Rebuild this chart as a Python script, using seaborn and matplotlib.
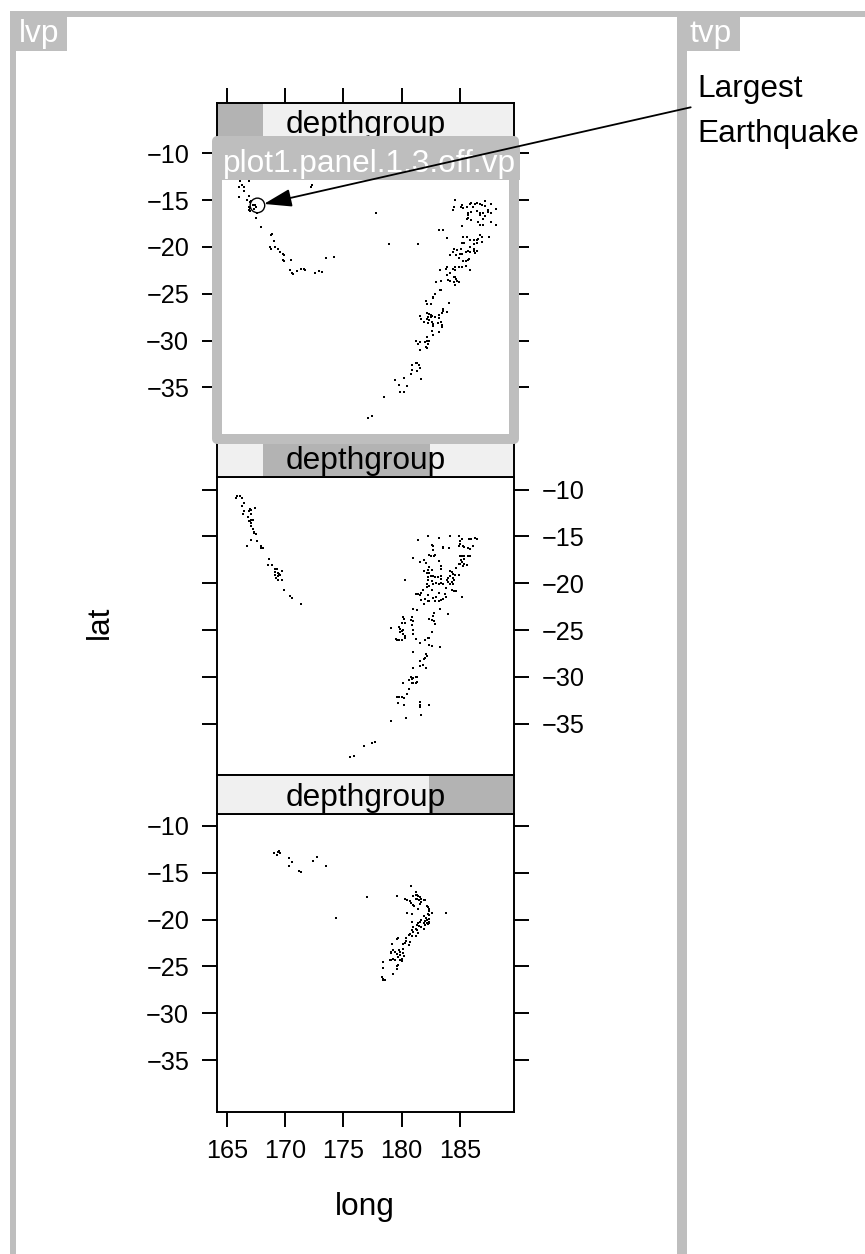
import matplotlib
matplotlib.use("Agg")
import matplotlib.pyplot as plt
import pandas as pd
import seaborn as sns
from matplotlib.patches import ConnectionPatch, Rectangle

# quake locations (long, lat), shallow -> deep
shallow_quakes = [
    (166.9, -13.0), (166.0, -13.6), (166.3, -13.4), (166.5, -13.6), (166.5, -14.0),
    (166.0, -14.7), (166.9, -14.6), (166.7, -15.0), (167.0, -15.2), (167.1, -15.1),
    (166.9, -15.7), (167.0, -15.8), (167.2, -15.5), (167.4, -15.5), (166.9, -16.1),
    (167.0, -16.2), (167.3, -15.9), (167.5, -15.7), (167.6, -16.4), (167.5, -16.9),
    (167.9, -17.9), (168.8, -18.7), (168.9, -18.6), (169.0, -19.4), (168.7, -20.0),
    (168.8, -20.2), (169.1, -20.0), (169.4, -20.2), (169.6, -20.5), (169.8, -20.7),
    (169.9, -20.9), (169.8, -21.4), (169.9, -21.5), (170.5, -21.4), (170.4, -22.5),
    (170.6, -22.8), (170.7, -22.9), (171.0, -22.6), (171.4, -22.3), (171.6, -22.3),
    (171.7, -22.5), (172.6, -22.8), (172.9, -22.6), (173.2, -22.7), (173.5, -21.2),
    (174.2, -21.1), (172.3, -13.4), (172.2, -13.6), (166.1, -12.9), (177.8, -16.4),
    (178.9, -19.7), (181.4, -19.7),
    (184.6, -15.0), (184.5, -15.7), (184.4, -16.0), (185.1, -15.7), (185.2, -15.5),
    (185.3, -15.8), (185.6, -15.7), (185.9, -15.4), (186.0, -15.3), (186.1, -15.7),
    (186.3, -15.4), (186.5, -15.3), (186.7, -15.4), (186.9, -15.5), (187.2, -15.1),
    (187.2, -15.6), (187.4, -16.1), (187.7, -15.4), (188.1, -15.9), (185.7, -16.4),
    (185.7, -16.6), (186.0, -16.3), (186.5, -16.2), (186.7, -16.4), (186.7, -16.6),
    (187.0, -16.4), (187.2, -16.7), (187.4, -16.3), (187.7, -16.4), (185.6, -17.0),
    (185.7, -16.9), (186.0, -17.1), (187.0, -17.0), (186.6, -17.3), (186.7, -17.6),
    (187.0, -17.6), (187.7, -17.3), (188.1, -17.6), (185.2, -17.8), (183.2, -18.2),
    (183.6, -18.2), (183.9, -19.0), (185.3, -18.9), (185.6, -18.9), (186.7, -18.7),
    (186.9, -18.9), (187.5, -18.9), (185.9, -19.3), (186.2, -19.3), (186.5, -19.3),
    (186.6, -19.2), (185.2, -19.6), (185.4, -19.6), (186.2, -19.7), (186.5, -19.6),
    (186.9, -19.5), (184.5, -20.2), (184.8, -20.3), (185.1, -20.2), (185.9, -20.0),
    (186.2, -20.2), (184.4, -20.5), (184.2, -20.9), (184.7, -20.9), (185.0, -20.8),
    (185.2, -20.8), (185.5, -20.5), (185.7, -20.4), (185.9, -20.5), (186.2, -20.4),
    (186.5, -20.4), (184.9, -21.2), (185.3, -21.5), (185.5, -21.5), (185.7, -21.4),
    (185.8, -21.3), (186.3, -20.6), (184.6, -22.1), (184.9, -22.1), (185.2, -22.1),
    (185.5, -22.0), (185.9, -22.5), (183.9, -22.1), (183.8, -22.4), (183.3, -22.5),
    (183.9, -23.0), (184.2, -22.8), (184.4, -22.4), (184.6, -22.5), (184.5, -23.2),
    (184.6, -23.2), (184.7, -23.4), (184.8, -23.6), (184.9, -23.7), (184.5, -23.7),
    (184.6, -24.1), (184.2, -23.6), (184.0, -23.5), (183.4, -23.6), (183.0, -23.7),
    (183.3, -24.6), (183.4, -24.6), (182.9, -25.0), (182.7, -25.3), (182.7, -25.4),
    (182.1, -25.8), (182.2, -26.1), (182.5, -26.1), (184.1, -26.0), (183.6, -26.6),
    (183.6, -26.8), (183.9, -26.9), (183.5, -27.1), (182.2, -27.1), (182.4, -27.2),
    (182.5, -27.3), (182.3, -27.5), (182.5, -27.5), (182.6, -27.4), (182.2, -27.7),
    (182.4, -27.8), (181.6, -27.4), (181.7, -27.7), (182.9, -27.5), (183.2, -27.3),
    (183.2, -27.6), (183.4, -28.0), (183.5, -28.5), (182.6, -28.0), (182.7, -28.4),
    (182.3, -28.1), (181.9, -28.0), (182.7, -28.2), (183.1, -28.1), (183.5, -28.3),
    (182.6, -29.0), (182.2, -29.6), (182.7, -29.4), (183.2, -29.1), (181.2, -30.0),
    (181.4, -30.4), (181.6, -30.1), (182.0, -30.1), (182.2, -30.0), (182.4, -30.0),
    (182.3, -30.4), (182.1, -30.7), (182.2, -30.8), (181.6, -31.0), (181.2, -32.4),
    (181.3, -32.4), (180.9, -32.6), (181.5, -32.6), (180.9, -33.1), (181.6, -32.9),
    (181.3, -33.3), (180.8, -33.6), (181.7, -34.1), (180.2, -34.0), (179.4, -34.2),
    (179.8, -34.7), (180.5, -34.9), (179.9, -35.5), (180.2, -35.5), (178.5, -36.0),
    (177.5, -38.0), (177.1, -38.3),
]

middle_quakes = [
    (165.8, -10.9), (165.9, -10.7), (166.1, -10.7), (166.3, -10.9), (166.5, -11.4),
    (166.3, -11.7), (166.4, -12.6), (166.5, -12.3), (166.9, -12.3), (167.0, -12.1),
    (167.1, -12.2), (167.1, -12.6), (167.4, -12.0), (166.8, -12.9), (166.9, -13.4),
    (167.1, -13.2), (167.2, -13.2), (167.0, -13.4), (167.1, -13.6), (167.1, -13.9),
    (167.2, -14.2), (167.3, -14.5), (167.3, -14.6), (167.5, -14.7), (167.1, -15.4),
    (167.6, -15.5), (166.7, -16.0), (167.9, -16.0), (167.9, -16.2), (168.1, -16.2),
    (168.6, -17.4), (168.5, -18.0), (168.9, -18.0), (169.1, -18.5), (169.3, -18.5),
    (169.1, -18.8), (169.4, -18.9), (169.5, -19.0), (169.7, -18.7), (169.1, -19.1),
    (169.4, -19.2), (169.6, -19.1), (169.2, -19.4), (169.4, -19.7), (169.7, -19.7),
    (169.9, -20.7), (170.4, -21.4), (170.6, -21.6), (171.4, -22.2),
    (182.3, -15.0), (183.2, -15.2), (184.2, -15.0), (184.9, -14.9), (185.2, -15.3),
    (185.0, -15.5), (185.8, -15.3), (186.0, -15.3), (186.3, -15.2), (186.5, -15.3),
    (181.4, -15.4), (182.6, -15.9), (182.7, -16.0), (183.6, -16.1), (183.6, -16.2),
    (184.1, -16.2), (184.9, -16.0), (185.0, -15.8), (185.3, -16.0), (185.4, -16.1),
    (185.7, -16.2), (185.9, -16.3), (186.1, -16.0), (182.7, -16.4), (182.4, -17.0),
    (182.5, -17.1), (182.8, -17.1), (182.9, -17.0), (185.0, -17.1), (185.2, -17.1),
    (185.4, -17.1), (185.7, -17.1), (185.9, -17.1), (181.0, -17.3), (181.6, -17.7),
    (181.9, -17.5), (182.1, -17.8), (183.2, -17.6), (185.1, -17.5), (185.4, -17.4),
    (185.2, -17.7), (185.0, -17.9), (184.9, -17.9), (185.4, -17.9), (185.6, -18.1),
    (185.3, -18.2), (184.7, -18.4), (182.4, -18.3), (182.3, -18.6), (182.6, -18.6),
    (183.4, -18.2), (183.4, -18.5), (181.9, -18.7), (182.2, -18.9), (182.4, -18.9),
    (182.5, -19.2), (182.3, -19.3), (182.7, -19.2), (182.9, -19.3), (183.1, -19.3),
    (183.4, -19.2), (183.4, -19.5), (184.2, -18.7), (184.3, -18.8), (184.4, -19.0),
    (184.2, -19.2), (184.6, -19.1), (184.9, -19.1), (184.0, -19.4), (184.4, -19.4),
    (184.5, -19.6), (183.9, -19.6), (184.0, -19.9), (184.3, -19.9), (184.2, -20.1),
    (184.4, -20.1), (180.3, -19.7), (182.3, -19.6), (182.6, -19.8), (182.2, -20.1),
    (182.4, -20.3), (182.7, -20.1), (183.0, -20.0), (183.2, -20.1), (183.4, -20.0),
    (183.6, -20.1), (182.2, -20.4), (183.8, -20.5), (184.3, -20.7), (184.5, -20.8),
    (184.7, -20.8), (181.8, -20.7), (182.6, -20.7), (183.2, -21.0), (183.7, -21.1),
    (181.2, -21.1), (181.4, -21.1), (181.6, -21.3), (181.7, -21.0), (182.3, -21.3),
    (182.0, -21.7), (181.7, -21.8), (182.4, -21.9), (182.7, -21.6), (183.0, -21.5),
    (182.9, -21.9), (183.2, -21.9), (183.4, -21.8), (183.6, -21.7), (183.8, -21.5),
    (181.9, -22.2), (182.3, -21.9), (185.2, -21.5), (181.0, -22.7), (181.3, -22.9),
    (183.3, -22.7), (182.8, -23.2), (182.7, -23.5), (184.0, -23.3), (180.1, -23.6),
    (180.2, -23.8), (180.9, -23.6), (180.8, -23.9), (180.0, -24.2), (180.3, -24.2),
    (181.0, -24.0), (182.4, -23.8), (182.6, -23.9), (182.8, -24.0), (182.9, -24.4),
    (179.8, -24.7), (179.9, -24.9), (180.0, -25.1), (180.1, -25.0), (179.9, -25.2),
    (180.1, -25.4), (179.1, -24.8), (180.9, -24.5), (181.0, -25.0), (182.6, -25.2),
    (179.5, -26.0), (179.6, -26.1), (179.8, -26.1), (180.0, -26.1), (180.3, -25.6),
    (180.3, -25.8), (181.0, -25.4), (181.2, -26.0), (182.3, -25.8), (182.4, -25.8),
    (182.0, -26.1), (181.6, -26.4), (182.4, -26.6), (182.6, -26.7), (183.3, -26.8),
    (181.0, -27.3), (182.1, -27.6), (182.2, -27.8), (182.0, -28.0), (181.9, -28.1),
    (181.6, -28.3), (181.0, -29.0), (181.6, -28.8), (181.8, -28.7), (182.1, -29.1),
    (180.8, -30.0), (181.0, -30.1), (181.2, -30.0), (181.3, -30.0), (180.6, -30.3),
    (180.9, -30.2), (181.3, -30.5), (180.1, -30.7), (180.9, -30.7), (181.0, -30.7),
    (181.2, -30.6), (180.6, -31.3), (180.5, -31.8), (179.6, -32.1), (179.8, -32.2),
    (180.0, -32.2), (180.2, -32.3), (179.7, -32.8), (180.2, -33.0), (181.6, -32.7),
    (181.6, -33.0), (181.6, -33.2), (182.4, -33.0), (181.7, -34.1), (179.1, -34.7),
    (180.4, -34.4), (177.5, -37.1), (177.7, -37.0), (176.8, -37.4), (175.6, -38.6),
    (175.9, -38.5),
]

deep_quakes = [
    (169.0, -12.9), (169.3, -13.1), (169.4, -12.8), (169.6, -12.9), (169.5, -12.7),
    (170.3, -13.4), (170.6, -13.8), (170.3, -14.3), (171.2, -14.8), (171.4, -14.9),
    (172.4, -13.7), (172.7, -13.3), (173.5, -14.3), (174.4, -19.8), (177.0, -17.6),
    (179.6, -17.5), (180.8, -16.4), (183.8, -19.3), (181.2, -17.1), (181.0, -17.5),
    (181.2, -17.4), (181.3, -17.4), (181.4, -17.5), (181.6, -17.6), (181.2, -17.8),
    (181.3, -17.8), (181.5, -17.9), (181.7, -17.8), (181.9, -17.9), (182.0, -17.9),
    (181.7, -18.1), (181.6, -18.3), (180.3, -17.8), (180.5, -17.9), (180.7, -18.0),
    (180.8, -18.2), (181.0, -18.4), (181.1, -18.5), (182.2, -18.6), (182.3, -18.7),
    (182.4, -18.9), (182.4, -19.1), (182.6, -19.3), (182.3, -19.4), (182.4, -19.5),
    (181.4, -18.9), (180.5, -19.3), (180.9, -19.4), (181.9, -19.6), (182.1, -19.8),
    (181.7, -20.0), (182.0, -20.1), (182.2, -20.0), (182.4, -19.9), (182.4, -20.3),
    (182.2, -20.4), (181.9, -20.4), (181.6, -20.3), (181.4, -20.4), (181.3, -20.6),
    (181.5, -20.7), (181.7, -20.8), (182.0, -20.6), (182.3, -20.5), (182.4, -20.4),
    (180.9, -20.3), (181.0, -20.8), (181.2, -21.0), (180.9, -21.1), (181.0, -21.3),
    (181.3, -21.1), (181.4, -21.4), (180.7, -21.5), (180.6, -21.7), (180.9, -21.8),
    (181.2, -21.8), (181.9, -21.0), (180.4, -22.0), (180.4, -22.3), (180.3, -22.5),
    (180.7, -22.4), (180.6, -22.7), (180.1, -22.6), (179.7, -22.0), (179.6, -22.1),
    (179.2, -22.6), (179.3, -23.2), (179.1, -23.5), (179.1, -23.6), (179.4, -23.5),
    (179.8, -23.2), (179.9, -23.5), (180.1, -23.6), (179.9, -23.8), (180.2, -23.9),
    (180.0, -24.2), (179.7, -24.0), (179.6, -23.7), (180.1, -23.1), (179.0, -24.3),
    (179.1, -24.3), (179.3, -24.2), (179.9, -24.3), (180.0, -24.4), (179.4, -24.3),
    (179.6, -25.0), (179.7, -24.9), (179.6, -25.3), (178.4, -24.5), (178.4, -25.2),
    (179.3, -25.8), (178.3, -26.1), (178.4, -26.3), (178.4, -26.5), (178.6, -26.5),
]

# equal-count shingle levels of depth (km), one per panel
depth_levels = [(39.5, 139.5), (138.5, 498.5), (497.5, 680.5)]
depth_range = (39.5, 680.5)
largest_quake = (167.62, -15.56)

long_ticks = [165, 170, 175, 180, 185]
lat_ticks = [-10, -15, -20, -25, -30, -35]
long_lim = (164.12, 189.66)
lat_lim = (-40.51, -8.68)

sns.set_theme(style="white", rc={"text.color": "black", "axes.labelcolor": "black",
                                 "xtick.color": "black", "ytick.color": "black"})
plt.rcParams["font.family"] = ["Liberation Sans", "DejaVu Sans"]

W, H = 865, 1254
GREY = "#bebebe"
BASE = 22.8
SMALL = 18.2

fig = plt.figure(figsize=(W / 100, H / 100), dpi=100)


def fbox(x0, y0, x1, y1):
    # pixel box with top-left origin -> [left, bottom, width, height] figure fraction
    return [x0 / W, 1 - y1 / H, (x1 - x0) / W, (y1 - y0) / H]


def fpt(x, y):
    return (x / W, 1 - y / H)


def grey_block(x0, y0, x1, y1, z=3):
    l, b, w, h = fbox(x0, y0, x1, y1)
    fig.add_artist(Rectangle((l, b), w, h, transform=fig.transFigure,
                             facecolor=GREY, lw=0, zorder=z))


panel_left, panel_right = 216.7, 514.0
strip_h, panel_h = 38.3, 298.0
layout_top = 102.7

panels = []
for row, (quakes, level) in enumerate(zip([shallow_quakes, middle_quakes, deep_quakes], depth_levels)):
    y_strip = layout_top + row * (strip_h + panel_h)
    y_panel = y_strip + strip_h
    ax = fig.add_axes(fbox(panel_left, y_panel, panel_right, y_panel + panel_h))
    sax = fig.add_axes(fbox(panel_left, y_strip, panel_right, y_panel))

    df = pd.DataFrame(quakes, columns=["long", "lat"])
    sns.scatterplot(data=df, x="long", y="lat", ax=ax, color="black",
                    marker="s", s=2.6, linewidth=0)
    ax.set_xlim(long_lim)
    ax.set_ylim(lat_lim)
    ax.set_xticks(long_ticks)
    ax.set_yticks(lat_ticks)
    ax.set_xlabel("")
    ax.set_ylabel("")
    ax.tick_params(axis="y", direction="out", length=10.8, width=1.4, color="black",
                   labelcolor="black", labelsize=SMALL, pad=9,
                   left=True, right=True, labelleft=(row != 1), labelright=(row == 1))
    ax.tick_params(axis="x", direction="out", length=10.8, width=1.4, color="black",
                   labelcolor="black", labelsize=SMALL, pad=9,
                   bottom=(row == 2), labelbottom=(row == 2), top=False, labeltop=False)
    for sp in ax.spines.values():
        sp.set_color("black")
        sp.set_linewidth(1.4)

    # strip with the shingle level shaded
    sax.set_facecolor("#f0f0f0")
    sax.set_xlim(long_lim)
    sax.set_ylim(0, 1)
    span = depth_range[1] - depth_range[0]
    f0 = (level[0] - depth_range[0]) / span
    f1 = (level[1] - depth_range[0]) / span
    sax.add_patch(Rectangle((f0, 0), f1 - f0, 1, transform=sax.transAxes,
                            facecolor="#b3b3b3", lw=0))
    sax.text(0.5, 0.42, "depthgroup", transform=sax.transAxes, ha="center",
             va="center", fontsize=BASE, color="black")
    sax.set_yticks([])
    sax.set_xticks(long_ticks)
    sax.tick_params(axis="x", direction="out", length=10.8, width=1.4, color="black",
                    bottom=False, labelbottom=False, top=(row == 0), labeltop=False)
    for sp in sax.spines.values():
        sp.set_color("black")
        sp.set_linewidth(1.4)
    panels.append(ax)

top_ax = panels[0]
top_ax.scatter([largest_quake[0]], [largest_quake[1]], s=110, facecolors="none",
               edgecolors="black", linewidths=1.0, zorder=5)

# axis titles
fig.text(*fpt(100, 622), "lat", rotation=90, ha="center", va="center",
         fontsize=BASE, color="black")
fig.text(*fpt(365, 1215), "long", ha="center", va="baseline", fontsize=BASE,
         color="black")

# viewport outlines: lvp and tvp
grey_block(10, 11, W, 16.7)
grey_block(10, 11, 16, H)
grey_block(677.3, 11, 687.3, H)
grey_block(10, 11, 66.7, 50.7)
grey_block(677.3, 11, 740, 50.7)
fig.text(*fpt(19, 41.7), "lvp", color="white", fontsize=BASE, va="baseline", zorder=4)
fig.text(*fpt(690, 41.7), "tvp", color="white", fontsize=BASE, va="baseline", zorder=4)

# highlighted panel viewport
l, b, w, h = fbox(panel_left, layout_top + strip_h, panel_right, layout_top + strip_h + panel_h)
fig.add_artist(Rectangle((l, b), w, h, transform=fig.transFigure, fill=False,
                         edgecolor=GREY, lw=7.2, joinstyle="round", zorder=3))
grey_block(211.7, 145.7, 519.5, 180)
fig.text(*fpt(223.3, 171.7), "plot1.panel.1.3.off.vp", color="white", fontsize=BASE,
         va="baseline", ha="left", zorder=4)

# annotation in tvp
fig.text(*fpt(697.3, 96.7), "Largest", fontsize=BASE, va="baseline", ha="left",
         color="black")
fig.text(*fpt(697.3, 141.7), "Earthquake", fontsize=BASE, va="baseline", ha="left",
         color="black")
arrow = ConnectionPatch(xyA=fpt(690.7, 107.3), coordsA="figure fraction",
                        xyB=largest_quake, coordsB=top_ax.transData,
                        arrowstyle="-|>,head_length=1.7,head_width=0.55",
                        mutation_scale=10, shrinkA=0, shrinkB=4.8,
                        lw=1.3, color="black", zorder=6)
fig.add_artist(arrow)

fig.savefig("out.png", dpi=100)
